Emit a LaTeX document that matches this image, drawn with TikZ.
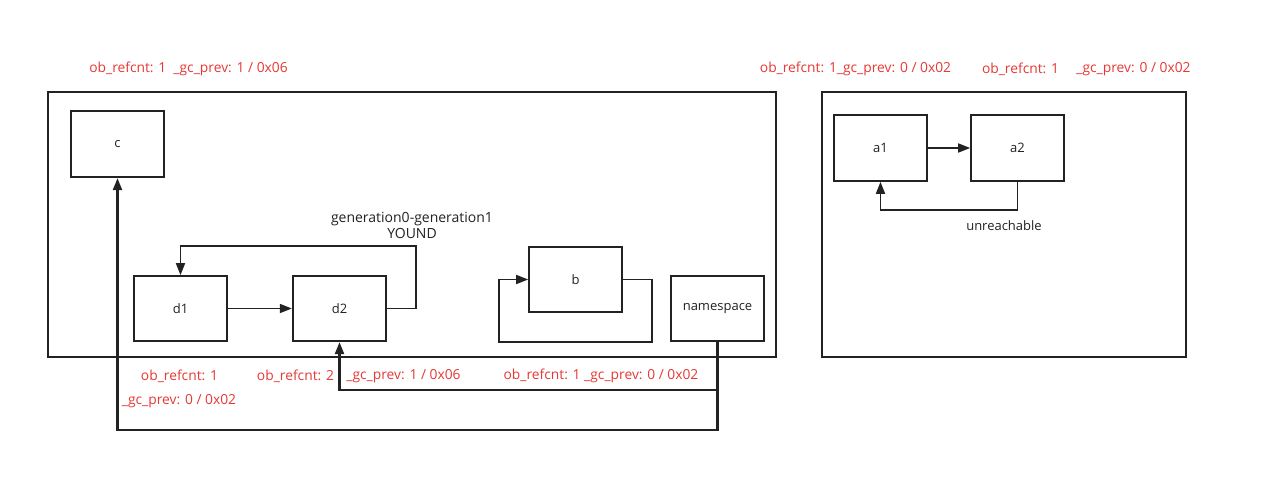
\documentclass[tikz,border=0pt]{standalone}
\usepackage{fontspec}
\setmainfont{Open Sans}
\usetikzlibrary{arrows.meta}
\definecolor{lbl}{RGB}{229,57,53}
\definecolor{ink}{RGB}{34,34,34}
\tikzset{
  box/.style={draw=ink, line width=1.6pt, minimum width=93pt, minimum height=65pt, inner sep=0pt, font=\fontsize{13}{15}\selectfont, text=ink},
  boldbox/.style={box, line width=2.3pt},
  frame/.style={draw=ink, line width=1.6pt, inner sep=0pt},
  conn/.style={draw=ink, line width=1.6pt, -{Triangle[length=12pt,width=9pt]}},
  boldconn/.style={conn, line width=2.3pt},
  red/.style={text=lbl, font=\fontsize{13.8}{15}\selectfont, inner sep=0pt},
  blk/.style={text=ink, font=\fontsize{14}{16}\selectfont, inner sep=0pt, align=center}
}
\begin{document}
\begin{tikzpicture}[x=1pt,y=-1pt]
\useasboundingbox[fill=white] (0,0) rectangle (1275,491);
% frames
\node[frame, minimum width=728pt, minimum height=265pt] (left) at (412,224.5) {};
\node[frame, minimum width=364pt, minimum height=265pt] (right) at (1004,224.5) {};
% boxes
\node[boldbox, minimum height=66pt] (c) at (117.5,144) {c};
\node[box] (d1) at (180.5,308.5) {d1};
\node[boldbox] (d2) at (339.5,308.5) {d2};
\node[box] (b) at (575.5,279.5) {b};
\node[box] (ns) at (717.5,308.5) {namespace};
\node[box, minimum height=66pt] (a1) at (880.5,148) {a1};
\node[box, minimum height=66pt] (a2) at (1017.5,148) {a2};
% connectors
\draw[conn] (d1.east) -- (d2.west);
\draw[conn] (d2.east) -- (416,308.5) -- (416,246) -| (d1.north);
\draw[conn] (b.east) -- (652,279.5) -- (652,342) -- (499,342) -- (499,279.5) -- (b.west);
\draw[boldconn] (ns.south) -- (717.5,390) -| (d2.south);
\draw[boldconn] (ns.south) -- (717.5,430) -| (c.south);
\draw[conn] (a1.east) -- (a2.west);
\draw[conn] (a2.south) -- (1017.5,210) -| (a1.south);
% labels
\node[red] (l1) at (188.5,69) {ob\_refcnt: 1\ \ \_gc\_prev: 1 / 0x06};
\node[red] (l2) at (855.5,69) {ob\_refcnt: 1\_gc\_prev: 0 / 0x02};
\node[red] (l3) at (1020.5,69) {ob\_refcnt: 1};
\node[red] (l4) at (1133.5,69) {\_gc\_prev: 0 / 0x02};
\node[red] (l5) at (179.5,376) {ob\_refcnt: 1};
\node[red] (l6) at (295.5,376) {ob\_refcnt: 2};
\node[red] (l7) at (179,401) {\_gc\_prev: 0 / 0x02};
\node[red] (l8) at (403.5,376) {\_gc\_prev: 1 / 0x06};
\node[red] (l9) at (601,376) {ob\_refcnt: 1 \_gc\_prev: 0 / 0x02};
\node[blk] (gen) at (412,225) {generation0-generation1\\YOUND};
\node[blk, font=\fontsize{13}{15}\selectfont] (unr) at (1004,226) {unreachable};
\end{tikzpicture}
\end{document}
